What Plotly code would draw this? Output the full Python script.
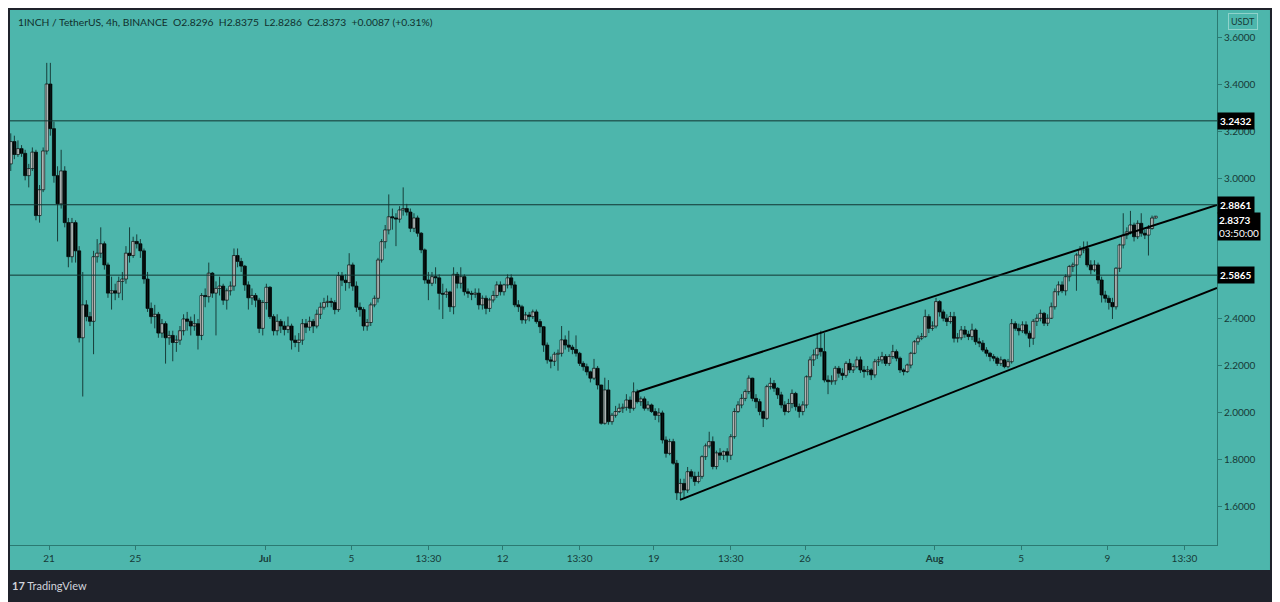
import pandas as pd
import plotly.graph_objects as go

# 1INCH/USDT 4h candles (open = previous close)
first_open = 3.06
close = [
    3.155, 3.10, 3.125, 3.105, 3.01, 3.04, 3.11, 2.84, 2.95, 3.115,
    3.40, 3.21, 3.01, 2.89, 3.03, 2.81, 2.665, 2.81, 2.69, 2.32,
    2.46, 2.41, 2.39, 2.665, 2.68, 2.72, 2.63, 2.51, 2.52, 2.51,
    2.56, 2.57, 2.68, 2.67, 2.73, 2.72, 2.69, 2.57, 2.445, 2.41,
    2.42, 2.34, 2.38, 2.32, 2.33, 2.30, 2.31, 2.35, 2.40, 2.39,
    2.37, 2.38, 2.33, 2.50, 2.495, 2.595, 2.51, 2.53, 2.54, 2.48,
    2.52, 2.54, 2.67, 2.645, 2.625, 2.545, 2.49, 2.50, 2.48, 2.36,
    2.47, 2.535, 2.41, 2.35, 2.39, 2.37, 2.355, 2.37, 2.31, 2.30,
    2.31, 2.38, 2.365, 2.39, 2.37, 2.42, 2.45, 2.47, 2.475, 2.47,
    2.44, 2.585, 2.565, 2.555, 2.63, 2.54, 2.45, 2.44, 2.37, 2.385,
    2.46, 2.488, 2.651, 2.729, 2.779, 2.835, 2.83, 2.825, 2.864, 2.87,
    2.855, 2.786, 2.83, 2.765, 2.694, 2.566, 2.552, 2.58, 2.575, 2.509,
    2.505, 2.515, 2.452, 2.59, 2.552, 2.58, 2.516, 2.509, 2.505, 2.51,
    2.46, 2.488, 2.445, 2.481, 2.50, 2.545, 2.516, 2.545, 2.575, 2.545,
    2.46, 2.452, 2.396, 2.417, 2.41, 2.43, 2.389, 2.367, 2.289, 2.226,
    2.22, 2.25, 2.254, 2.311, 2.289, 2.28, 2.27, 2.254, 2.211, 2.197,
    2.175, 2.148, 2.19, 2.119, 1.956, 2.098, 1.963, 1.99, 2.006, 2.02,
    2.024, 2.055, 2.02, 2.09, 2.048, 2.06, 2.02, 2.034, 2.006, 1.99,
    2.00, 1.885, 1.828, 1.878, 1.786, 1.66, 1.70, 1.672, 1.75, 1.73,
    1.708, 1.73, 1.814, 1.86, 1.878, 1.772, 1.83, 1.82, 1.835, 1.82,
    1.899, 2.006, 2.034, 2.062, 2.091, 2.148, 2.062, 2.048, 2.006, 1.977,
    2.112, 2.126, 2.105, 2.077, 2.034, 2.006, 2.04, 2.083, 2.027, 2.006,
    2.034, 2.154, 2.226, 2.247, 2.275, 2.261, 2.14, 2.133, 2.137, 2.19,
    2.169, 2.16, 2.211, 2.183, 2.197, 2.226, 2.183, 2.176, 2.183, 2.162,
    2.218, 2.226, 2.24, 2.211, 2.24, 2.261, 2.233, 2.183, 2.176, 2.204,
    2.254, 2.303, 2.318, 2.325, 2.41, 2.36, 2.37, 2.474, 2.43, 2.403,
    2.389, 2.41, 2.318, 2.32, 2.353, 2.335, 2.325, 2.353, 2.303, 2.297,
    2.268, 2.254, 2.24, 2.233, 2.211, 2.226, 2.197, 2.218, 2.38, 2.36,
    2.35, 2.375, 2.339, 2.318, 2.39, 2.403, 2.424, 2.382, 2.403, 2.452,
    2.516, 2.545, 2.52, 2.58, 2.623, 2.63, 2.672, 2.694, 2.70, 2.63,
    2.609, 2.63, 2.566, 2.502, 2.488, 2.47, 2.452, 2.616, 2.715, 2.757,
    2.771, 2.80, 2.75, 2.807, 2.765, 2.757, 2.785, 2.8296, 2.8373,
]
high = [
    3.19, 3.18, 3.16, 3.14, 3.12, 3.06, 3.13, 3.12, 2.97, 3.13,
    3.49, 3.49, 3.24, 3.05, 3.12, 3.05, 2.83, 2.83, 2.82, 2.71,
    2.60, 2.48, 2.43, 2.69, 2.74, 2.79, 2.73, 2.64, 2.58, 2.55,
    2.58, 2.60, 2.71, 2.79, 2.75, 2.76, 2.74, 2.70, 2.60, 2.47,
    2.46, 2.43, 2.40, 2.39, 2.35, 2.35, 2.33, 2.37, 2.42, 2.43,
    2.41, 2.42, 2.40, 2.51, 2.53, 2.64, 2.60, 2.56, 2.58, 2.55,
    2.53, 2.56, 2.70, 2.70, 2.66, 2.63, 2.56, 2.53, 2.51, 2.49,
    2.48, 2.55, 2.54, 2.42, 2.42, 2.40, 2.39, 2.41, 2.38, 2.33,
    2.34, 2.40, 2.40, 2.41, 2.40, 2.44, 2.47, 2.49, 2.50, 2.49,
    2.48, 2.60, 2.60, 2.59, 2.68, 2.64, 2.56, 2.47, 2.45, 2.40,
    2.47, 2.50, 2.66, 2.74, 2.80, 2.93, 2.87, 2.85, 2.88, 2.96,
    2.89, 2.87, 2.85, 2.84, 2.77, 2.70, 2.60, 2.60, 2.62, 2.59,
    2.55, 2.53, 2.52, 2.62, 2.60, 2.62, 2.59, 2.53, 2.52, 2.53,
    2.53, 2.50, 2.50, 2.49, 2.52, 2.56, 2.56, 2.55, 2.59, 2.59,
    2.56, 2.48, 2.46, 2.43, 2.43, 2.44, 2.44, 2.40, 2.37, 2.30,
    2.24, 2.26, 2.27, 2.37, 2.33, 2.35, 2.29, 2.33, 2.26, 2.22,
    2.21, 2.18, 2.23, 2.20, 2.12, 2.15, 2.14, 2.00, 2.03, 2.04,
    2.04, 2.08, 2.07, 2.13, 2.10, 2.07, 2.07, 2.05, 2.04, 2.02,
    2.02, 2.01, 1.90, 1.89, 1.89, 1.80, 1.72, 1.72, 1.77, 1.76,
    1.75, 1.75, 1.82, 1.87, 1.92, 1.90, 1.84, 1.85, 1.84, 1.85,
    1.91, 2.02, 2.05, 2.08, 2.10, 2.16, 2.15, 2.08, 2.06, 2.01,
    2.12, 2.15, 2.14, 2.11, 2.09, 2.05, 2.06, 2.10, 2.09, 2.04,
    2.05, 2.16, 2.24, 2.27, 2.34, 2.35, 2.34, 2.16, 2.16, 2.20,
    2.20, 2.19, 2.22, 2.23, 2.21, 2.24, 2.24, 2.20, 2.20, 2.19,
    2.23, 2.24, 2.26, 2.25, 2.25, 2.29, 2.27, 2.24, 2.19, 2.21,
    2.26, 2.31, 2.33, 2.34, 2.44, 2.42, 2.39, 2.49, 2.48, 2.44,
    2.42, 2.43, 2.43, 2.34, 2.37, 2.37, 2.35, 2.38, 2.36, 2.32,
    2.31, 2.28, 2.26, 2.25, 2.24, 2.24, 2.23, 2.23, 2.40, 2.39,
    2.38, 2.39, 2.39, 2.35, 2.40, 2.42, 2.44, 2.43, 2.42, 2.47,
    2.53, 2.56, 2.56, 2.59, 2.63, 2.64, 2.68, 2.71, 2.73, 2.73,
    2.65, 2.65, 2.64, 2.58, 2.52, 2.50, 2.49, 2.62, 2.72, 2.85,
    2.79, 2.86, 2.81, 2.82, 2.85, 2.78, 2.80, 2.84, 2.8375,
]
low = [
    3.03, 3.08, 3.09, 3.09, 2.99, 2.96, 3.03, 2.82, 2.81, 2.94,
    3.10, 3.18, 2.98, 2.73, 2.87, 2.79, 2.62, 2.64, 2.64, 2.30,
    2.07, 2.39, 2.37, 2.25, 2.64, 2.66, 2.61, 2.49, 2.44, 2.48,
    2.49, 2.48, 2.55, 2.64, 2.66, 2.70, 2.66, 2.55, 2.43, 2.38,
    2.36, 2.32, 2.32, 2.21, 2.29, 2.22, 2.26, 2.29, 2.33, 2.35,
    2.33, 2.35, 2.27, 2.31, 2.45, 2.47, 2.49, 2.33, 2.50, 2.46,
    2.44, 2.50, 2.52, 2.62, 2.60, 2.52, 2.44, 2.46, 2.45, 2.34,
    2.33, 2.44, 2.40, 2.33, 2.33, 2.34, 2.33, 2.34, 2.27, 2.28,
    2.26, 2.29, 2.34, 2.35, 2.34, 2.36, 2.40, 2.44, 2.45, 2.45,
    2.42, 2.43, 2.54, 2.52, 2.53, 2.52, 2.43, 2.41, 2.35, 2.35,
    2.37, 2.45, 2.47, 2.64, 2.70, 2.76, 2.78, 2.71, 2.81, 2.84,
    2.84, 2.77, 2.77, 2.75, 2.68, 2.55, 2.48, 2.54, 2.55, 2.44,
    2.40, 2.49, 2.43, 2.42, 2.53, 2.53, 2.50, 2.49, 2.48, 2.49,
    2.44, 2.44, 2.42, 2.43, 2.47, 2.49, 2.50, 2.50, 2.53, 2.53,
    2.45, 2.43, 2.38, 2.38, 2.39, 2.40, 2.38, 2.34, 2.26, 2.21,
    2.19, 2.20, 2.18, 2.24, 2.27, 2.26, 2.25, 2.24, 2.20, 2.18,
    2.16, 2.13, 2.14, 2.10, 1.95, 1.95, 1.95, 1.95, 1.98, 2.00,
    2.00, 2.01, 2.00, 2.01, 2.04, 2.03, 2.01, 2.01, 2.00, 1.97,
    1.96, 1.87, 1.81, 1.82, 1.78, 1.63, 1.63, 1.64, 1.66, 1.72,
    1.69, 1.70, 1.72, 1.80, 1.85, 1.76, 1.76, 1.80, 1.80, 1.79,
    1.80, 1.89, 2.00, 2.02, 2.05, 2.08, 2.05, 2.02, 1.99, 1.94,
    1.97, 2.10, 2.09, 2.06, 2.02, 1.99, 2.00, 2.02, 2.01, 1.98,
    1.99, 2.02, 2.14, 2.20, 2.23, 2.24, 2.13, 2.08, 2.12, 2.12,
    2.15, 2.14, 2.15, 2.17, 2.17, 2.19, 2.17, 2.15, 2.16, 2.14,
    2.15, 2.20, 2.21, 2.20, 2.20, 2.23, 2.22, 2.17, 2.16, 2.17,
    2.19, 2.25, 2.29, 2.31, 2.32, 2.34, 2.35, 2.36, 2.41, 2.39,
    2.37, 2.38, 2.30, 2.30, 2.31, 2.32, 2.31, 2.31, 2.29, 2.28,
    2.26, 2.24, 2.22, 2.22, 2.20, 2.20, 2.19, 2.19, 2.21, 2.35,
    2.33, 2.34, 2.33, 2.28, 2.29, 2.37, 2.39, 2.37, 2.37, 2.40,
    2.44, 2.50, 2.51, 2.50, 2.56, 2.60, 2.52, 2.66, 2.68, 2.62,
    2.59, 2.60, 2.55, 2.47, 2.47, 2.44, 2.40, 2.44, 2.60, 2.70,
    2.74, 2.76, 2.73, 2.74, 2.75, 2.74, 2.67, 2.78, 2.8286,
]
opens = [first_open] + close[:-1]
times = pd.date_range("2021-06-19 05:30", periods=len(close), freq="4h")

# horizontal levels and the rising channel drawn on the chart
levels = [3.2432, 2.8861, 2.5865]
upper_t = ["2021-07-18 05:15", "2021-08-14 01:40"]
upper_p = [2.089, 2.885]
lower_t = ["2021-07-20 05:05", "2021-08-14 01:40"]
lower_p = [1.630, 2.532]

xtick_vals = ["2021-06-21", "2021-06-25", "2021-07-01", "2021-07-05", "2021-07-08 13:30",
              "2021-07-12", "2021-07-15 13:30", "2021-07-19", "2021-07-22 13:30", "2021-07-26",
              "2021-08-01", "2021-08-05", "2021-08-09", "2021-08-12 13:30"]
xtick_text = ["21", "25", "<b>Jul</b>", "5", "13:30", "12", "13:30", "19", "13:30", "26",
              "<b>Aug</b>", "5", "9", "13:30"]
ytick_vals = [1.6, 1.8, 2.0, 2.2, 2.4, 3.0, 3.2, 3.4, 3.6]

teal = "#4db6ac"
dark = "#1f222b"
ink = "#173a37"
font = "Lato"
bar_ms = 4 * 3600 * 1000 * 0.86

# candle bodies as bars, wicks as one broken line
body_base = [min(o, c) for o, c in zip(opens, close)]
body_len = [max(abs(c - o), 0.0025) for o, c in zip(opens, close)]
body_col = ["white" if c >= o else "black" for o, c in zip(opens, close)]
wick_x, wick_y = [], []
for t, h, l in zip(times, high, low):
    wick_x += [t, t, None]
    wick_y += [l, h, None]

fig = go.Figure()
fig.add_trace(go.Scatter(x=wick_x, y=wick_y, mode="lines",
                         line=dict(color="rgba(10,32,30,0.8)", width=1),
                         showlegend=False, hoverinfo="skip"))
fig.add_trace(go.Bar(x=times, y=body_len, base=body_base, width=bar_ms,
                     marker=dict(color=body_col, line=dict(color="black", width=0.7)),
                     showlegend=False, hoverinfo="skip"))
fig.add_trace(go.Scatter(x=upper_t, y=upper_p, mode="lines",
                         line=dict(color="black", width=2), showlegend=False, hoverinfo="skip"))
fig.add_trace(go.Scatter(x=lower_t, y=lower_p, mode="lines",
                         line=dict(color="black", width=2), showlegend=False, hoverinfo="skip"))

# teal panel that also covers the axis strips
fig.add_shape(type="rect", xref="paper", yref="paper", x0=0, x1=1.0439, y0=-0.0467, y1=1,
              fillcolor=teal, line=dict(width=0), layer="below")
for lv in levels:
    fig.add_shape(type="line", xref="paper", yref="y", x0=0, x1=1, y0=lv, y1=lv,
                  line=dict(color="#123532", width=1))
    fig.add_annotation(xref="paper", yref="y", x=1.0, y=lv, xanchor="left", yanchor="middle",
                       text="<b>%.4f</b>" % lv, showarrow=False, bgcolor="black",
                       font=dict(family=font, size=10, color="white"), borderpad=2)

fig.add_annotation(xref="paper", yref="y", x=1.0, y=close[-1], xanchor="left", yanchor="top",
                   yshift=4, text="<b>%.4f</b><br>03:50:00" % close[-1], showarrow=False,
                   bgcolor="black", align="left",
                   font=dict(family=font, size=10, color="white"), borderpad=1)
fig.add_annotation(xref="paper", yref="paper", x=1.0215, y=0.979, xanchor="center",
                   yanchor="middle", text="USDT", showarrow=False, bordercolor="#8fd3cb",
                   borderwidth=1, borderpad=2, font=dict(family=font, size=9, color=ink))
fig.add_annotation(xref="paper", yref="paper", x=0.005, y=0.978, xanchor="left",
                   yanchor="middle", showarrow=False,
                   text="1INCH / TetherUS, 4h, BINANCE  O2.8296  H2.8375  L2.8286  C2.8373  +0.0087 (+0.31%)",
                   font=dict(family=font, size=10.3, color="#10302d"))
fig.add_annotation(xref="paper", yref="paper", x=0.0, y=-0.0766, xanchor="left",
                   yanchor="middle", showarrow=False,
                   text="<b>17</b> TradingView",
                   font=dict(family=font, size=11, color="#d1d4dc"))

# the page adds an 8px body margin, so the figure is drawn 8px smaller
fig.update_layout(
    width=1272, height=594,
    margin=dict(l=2, r=63, t=2, b=57),
    paper_bgcolor=dark, plot_bgcolor=teal,
    font=dict(family=font, size=10, color=ink),
    xaxis=dict(type="date", range=["2021-06-19 04:40", "2021-08-14 01:40"],
               showgrid=False, zeroline=False,
               tickvals=xtick_vals, ticktext=xtick_text, ticks="outside", ticklen=4,
               tickcolor="#2b7a72", showline=True, linecolor="#2b7a72",
               tickfont=dict(family=font, size=10, color=ink)),
    yaxis=dict(side="right", range=[1.438, 3.715], showgrid=False, zeroline=False,
               tickvals=ytick_vals, tickformat=".4f", ticks="outside", ticklen=4,
               tickcolor="#2b7a72", showline=True, linecolor="#2b7a72",
               tickfont=dict(family=font, size=10, color=ink)),
)

fig.write_html("out.html")
